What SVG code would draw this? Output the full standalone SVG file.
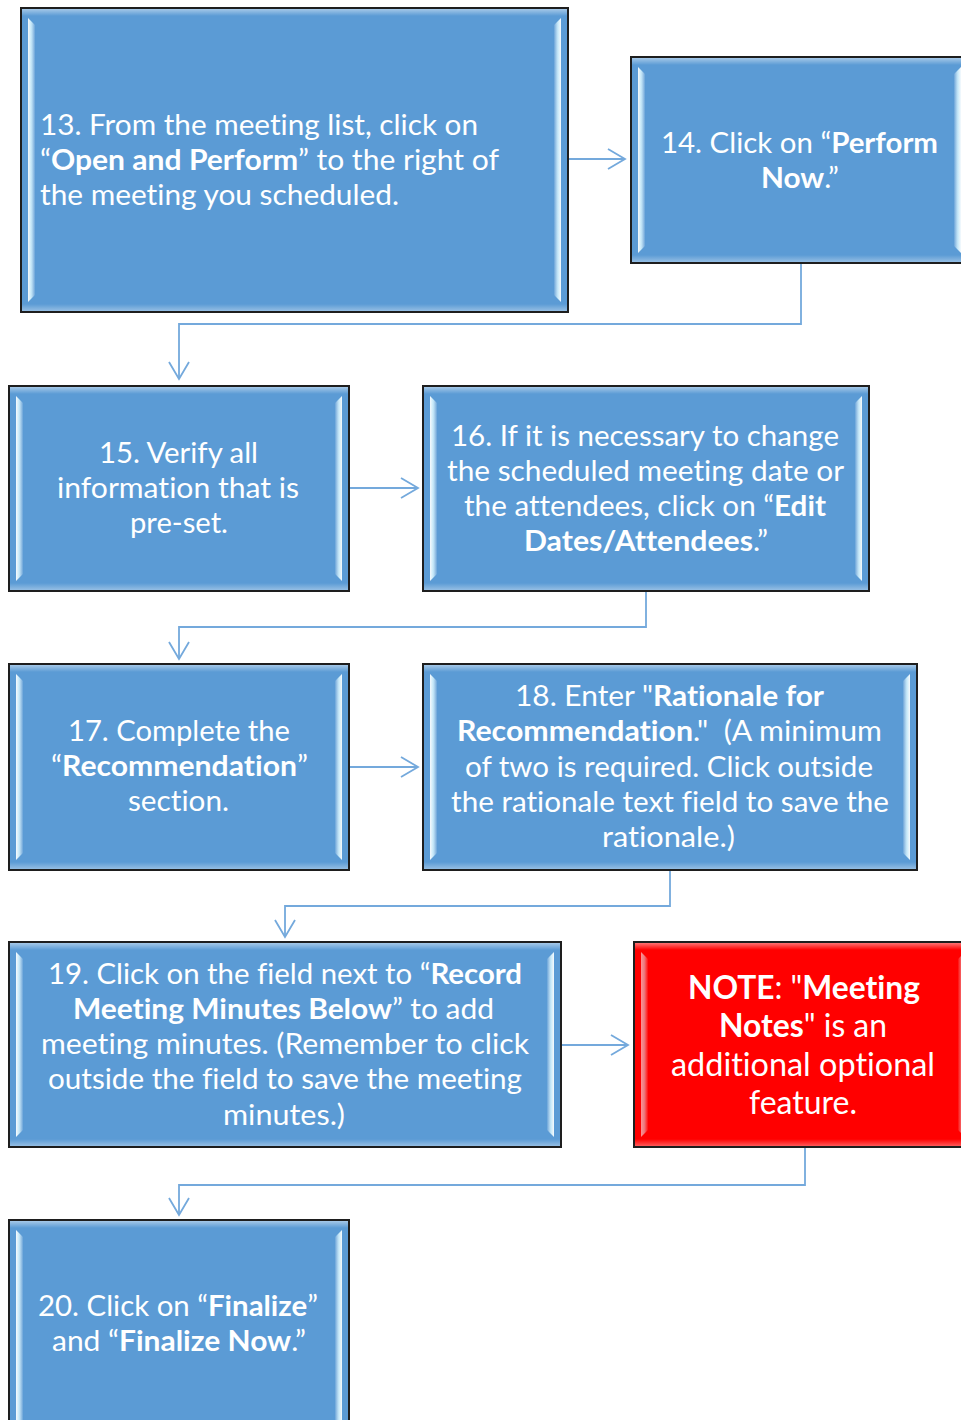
<svg xmlns="http://www.w3.org/2000/svg" width="961" height="1420" viewBox="0 0 961 1420">
  <style>
    .box { stroke: #1e1e1e; stroke-width: 2; }
    .blue { fill: #5b9bd5; }
    .red { fill: #ff0000; }
    .t { fill: #ffffff; font-family: Lato, "Liberation Sans", sans-serif; font-size: 29px; font-variant-ligatures: none; }
    .note { font-size: 32px; }
    .b { font-weight: 700; }
    .conn { fill: none; stroke: #74a9dc; stroke-width: 1.8; }
  </style>
  <defs>
    <linearGradient id="gL" x1="0" y1="0" x2="1" y2="0">
      <stop offset="0" stop-color="#ffffff" stop-opacity="0.95"/>
      <stop offset="0.45" stop-color="#d8f6ff" stop-opacity="0.85"/>
      <stop offset="1" stop-color="#ffffff" stop-opacity="0.08"/>
    </linearGradient>
    <linearGradient id="gR" x1="1" y1="0" x2="0" y2="0">
      <stop offset="0" stop-color="#ffffff" stop-opacity="0.95"/>
      <stop offset="0.45" stop-color="#d8f6ff" stop-opacity="0.85"/>
      <stop offset="1" stop-color="#ffffff" stop-opacity="0.08"/>
    </linearGradient>
    <linearGradient id="gTop" x1="0" y1="0" x2="0" y2="1">
      <stop offset="0" stop-color="#ffffff" stop-opacity="0.45"/>
      <stop offset="1" stop-color="#ffffff" stop-opacity="0"/>
    </linearGradient>
    <linearGradient id="gBot" x1="0" y1="0" x2="0" y2="1">
      <stop offset="0" stop-color="#ffffff" stop-opacity="0"/>
      <stop offset="1" stop-color="#ffffff" stop-opacity="0.35"/>
    </linearGradient>
    <marker id="arrow" markerUnits="userSpaceOnUse" markerWidth="22" markerHeight="22" viewBox="0 0 22 22" refX="19" refY="11" orient="auto">
      <path d="M2,1 L19,11 L2,21" fill="none" stroke="#74a9dc" stroke-width="1.8"/>
    </marker>
  </defs>

  <!-- connectors -->
  <g id="connectors">
    <path class="conn" d="M568,159 H625" marker-end="url(#arrow)"/>
    <path class="conn" d="M801,263 V324 H179 V379" marker-end="url(#arrow)"/>
    <path class="conn" d="M349,488 H418" marker-end="url(#arrow)"/>
    <path class="conn" d="M646,591 V627 H179 V659" marker-end="url(#arrow)"/>
    <path class="conn" d="M349,767 H418" marker-end="url(#arrow)"/>
    <path class="conn" d="M670,870 V906 H285 V937" marker-end="url(#arrow)"/>
    <path class="conn" d="M561,1045 H628" marker-end="url(#arrow)"/>
    <path class="conn" d="M805,1147 V1185 H179 V1215" marker-end="url(#arrow)"/>
  </g>

  <!-- step 13 -->
  <g id="step13">
    <rect class="box blue" x="21" y="8" width="547" height="304"/>
    <rect x="22" y="9" width="545" height="7" fill="url(#gTop)"/>
    <rect x="22" y="304" width="545" height="7" fill="url(#gBot)"/>
    <polygon points="28,18 35,25 35,295 28,302" fill="url(#gL)"/>
    <polygon points="561,18 554,25 554,295 561,302" fill="url(#gR)"/>
    <text class="t" x="40" y="135" textLength="438" lengthAdjust="spacingAndGlyphs">13. From the meeting list, click on</text>
    <text class="t" x="40" y="170" textLength="459" lengthAdjust="spacingAndGlyphs">“<tspan class="b">Open and Perform</tspan>” to the right of</text>
    <text class="t" x="40" y="205" textLength="359" lengthAdjust="spacingAndGlyphs">the meeting you scheduled.</text>
  </g>

  <!-- step 14 -->
  <g id="step14">
    <rect class="box blue" x="631" y="57" width="337" height="206"/>
    <rect x="632" y="58" width="335" height="7" fill="url(#gTop)"/>
    <rect x="632" y="255" width="335" height="7" fill="url(#gBot)"/>
    <polygon points="638,67 645,74 645,246 638,253" fill="url(#gL)"/>
    <polygon points="961,67 954,74 954,246 961,253" fill="url(#gR)"/>
    <text class="t" x="799.5" y="153" text-anchor="middle" textLength="277" lengthAdjust="spacingAndGlyphs">14. Click on “<tspan class="b">Perform</tspan></text>
    <text class="t" x="800" y="188" text-anchor="middle" textLength="78" lengthAdjust="spacingAndGlyphs"><tspan class="b">Now</tspan>.”</text>
  </g>

  <!-- step 15 -->
  <g id="step15">
    <rect class="box blue" x="9" y="386" width="340" height="205"/>
    <rect x="10" y="387" width="338" height="7" fill="url(#gTop)"/>
    <rect x="10" y="583" width="338" height="7" fill="url(#gBot)"/>
    <polygon points="16,396 23,403 23,574 16,581" fill="url(#gL)"/>
    <polygon points="342,396 335,403 335,574 342,581" fill="url(#gR)"/>
    <text class="t" x="178.5" y="463" text-anchor="middle" textLength="159" lengthAdjust="spacingAndGlyphs">15. Verify all</text>
    <text class="t" x="178" y="498" text-anchor="middle" textLength="242" lengthAdjust="spacingAndGlyphs">information that is</text>
    <text class="t" x="179" y="533" text-anchor="middle" textLength="98" lengthAdjust="spacingAndGlyphs">pre-set.</text>
  </g>

  <!-- step 16 -->
  <g id="step16">
    <rect class="box blue" x="423" y="386" width="446" height="205"/>
    <rect x="424" y="387" width="444" height="7" fill="url(#gTop)"/>
    <rect x="424" y="583" width="444" height="7" fill="url(#gBot)"/>
    <polygon points="430,396 437,403 437,574 430,581" fill="url(#gL)"/>
    <polygon points="862,396 855,403 855,574 862,581" fill="url(#gR)"/>
    <text class="t" x="645" y="446" text-anchor="middle" textLength="388" lengthAdjust="spacingAndGlyphs">16. If it is necessary to change</text>
    <text class="t" x="645.5" y="481" text-anchor="middle" textLength="397" lengthAdjust="spacingAndGlyphs">the scheduled meeting date or</text>
    <text class="t" x="645" y="516" text-anchor="middle" textLength="362" lengthAdjust="spacingAndGlyphs">the attendees, click on “<tspan class="b">Edit</tspan></text>
    <text class="t" x="646" y="551" text-anchor="middle" textLength="244" lengthAdjust="spacingAndGlyphs"><tspan class="b">Dates/Attendees</tspan>.”</text>
  </g>

  <!-- step 17 -->
  <g id="step17">
    <rect class="box blue" x="9" y="664" width="340" height="206"/>
    <rect x="10" y="665" width="338" height="7" fill="url(#gTop)"/>
    <rect x="10" y="862" width="338" height="7" fill="url(#gBot)"/>
    <polygon points="16,674 23,681 23,853 16,860" fill="url(#gL)"/>
    <polygon points="342,674 335,681 335,853 342,860" fill="url(#gR)"/>
    <text class="t" x="179" y="741" text-anchor="middle" textLength="222" lengthAdjust="spacingAndGlyphs">17. Complete the</text>
    <text class="t" x="179.5" y="776" text-anchor="middle" textLength="257" lengthAdjust="spacingAndGlyphs">“<tspan class="b">Recommendation</tspan>”</text>
    <text class="t" x="178.5" y="811" text-anchor="middle" textLength="101" lengthAdjust="spacingAndGlyphs">section.</text>
  </g>

  <!-- step 18 -->
  <g id="step18">
    <rect class="box blue" x="423" y="664" width="494" height="206"/>
    <rect x="424" y="665" width="492" height="7" fill="url(#gTop)"/>
    <rect x="424" y="862" width="492" height="7" fill="url(#gBot)"/>
    <polygon points="430,674 437,681 437,853 430,860" fill="url(#gL)"/>
    <polygon points="910,674 903,681 903,853 910,860" fill="url(#gR)"/>
    <text class="t" x="669.5" y="706" text-anchor="middle" textLength="309" lengthAdjust="spacingAndGlyphs">18. Enter "<tspan class="b">Rationale for</tspan></text>
    <text class="t" x="669.5" y="741" text-anchor="middle" textLength="425" lengthAdjust="spacingAndGlyphs" xml:space="preserve"><tspan class="b">Recommendation</tspan>."  (A minimum</text>
    <text class="t" x="669" y="777" text-anchor="middle" textLength="408" lengthAdjust="spacingAndGlyphs">of two is required. Click outside</text>
    <text class="t" x="670" y="812" text-anchor="middle" textLength="438" lengthAdjust="spacingAndGlyphs">the rationale text field to save the</text>
    <text class="t" x="668.5" y="847" text-anchor="middle" textLength="133" lengthAdjust="spacingAndGlyphs">rationale.)</text>
  </g>

  <!-- step 19 -->
  <g id="step19">
    <rect class="box blue" x="9" y="942" width="552" height="205"/>
    <rect x="10" y="943" width="550" height="7" fill="url(#gTop)"/>
    <rect x="10" y="1139" width="550" height="7" fill="url(#gBot)"/>
    <polygon points="16,952 23,959 23,1130 16,1137" fill="url(#gL)"/>
    <polygon points="554,952 547,959 547,1130 554,1137" fill="url(#gR)"/>
    <text class="t" x="285" y="984" text-anchor="middle" textLength="474" lengthAdjust="spacingAndGlyphs">19. Click on the field next to “<tspan class="b">Record</tspan></text>
    <text class="t" x="283.5" y="1019" text-anchor="middle" textLength="421" lengthAdjust="spacingAndGlyphs"><tspan class="b">Meeting Minutes Below</tspan>” to add</text>
    <text class="t" x="285" y="1054" text-anchor="middle" textLength="488" lengthAdjust="spacingAndGlyphs">meeting minutes. (Remember to click</text>
    <text class="t" x="285" y="1089" text-anchor="middle" textLength="474" lengthAdjust="spacingAndGlyphs">outside the field to save the meeting</text>
    <text class="t" x="284" y="1125" text-anchor="middle" textLength="122" lengthAdjust="spacingAndGlyphs">minutes.)</text>
  </g>

  <!-- note -->
  <g id="note">
    <rect class="box red" x="634" y="942" width="338" height="205"/>
    <rect x="635" y="943" width="336" height="7" fill="url(#gTop)"/>
    <rect x="635" y="1139" width="336" height="7" fill="url(#gBot)"/>
    <polygon points="641,952 648,959 648,1130 641,1137" fill="url(#gL)" opacity="0.6"/>
    <polygon points="965,952 958,959 958,1130 965,1137" fill="url(#gR)" opacity="0.6"/>
    <text class="t note" x="804" y="999" text-anchor="middle" textLength="232" lengthAdjust="spacingAndGlyphs"><tspan class="b">NOTE</tspan>: "<tspan class="b">Meeting</tspan></text>
    <text class="t note" x="803" y="1037" text-anchor="middle" textLength="168" lengthAdjust="spacingAndGlyphs"><tspan class="b">Notes</tspan>" is an</text>
    <text class="t note" x="803" y="1076" text-anchor="middle" textLength="264" lengthAdjust="spacingAndGlyphs">additional optional</text>
    <text class="t note" x="803" y="1114" text-anchor="middle" textLength="108" lengthAdjust="spacingAndGlyphs">feature.</text>
  </g>

  <!-- step 20 -->
  <g id="step20">
    <rect class="box blue" x="9" y="1220" width="340" height="215"/>
    <rect x="10" y="1221" width="338" height="7" fill="url(#gTop)"/>
    <polygon points="16,1230 23,1237 23,1425 16,1432" fill="url(#gL)"/>
    <polygon points="342,1230 335,1237 335,1425 342,1432" fill="url(#gR)"/>
    <text class="t" x="178" y="1316" text-anchor="middle" textLength="280" lengthAdjust="spacingAndGlyphs">20. Click on “<tspan class="b">Finalize</tspan>”</text>
    <text class="t" x="179" y="1351" text-anchor="middle" textLength="254" lengthAdjust="spacingAndGlyphs">and “<tspan class="b">Finalize Now</tspan>.”</text>
  </g>
</svg>
